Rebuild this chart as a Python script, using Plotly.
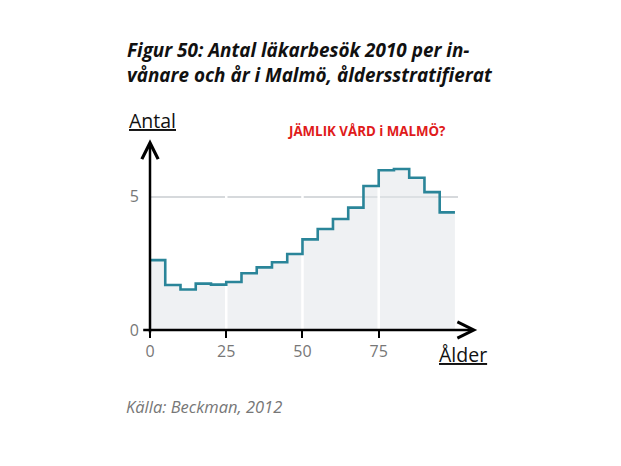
import plotly.graph_objects as go

# Data: age bins (start of each 5-year group) and visits per inhabitant and year
age_start = [0, 5, 10, 15, 20, 25, 30, 35, 40, 45, 50, 55, 60, 65, 70, 75, 80, 85, 90, 95]
visits = [2.62, 1.69, 1.52, 1.74, 1.70, 1.80, 2.13, 2.35, 2.54, 2.85,
          3.40, 3.79, 4.16, 4.59, 5.40, 5.99, 6.04, 5.71, 5.17, 4.41]
bin_width = 5
x_ticks = [0, 25, 50, 75]
y_ticks = [0, 5]

title_text = "Figur 50: Antal läkarbesök 2010 per in-<br>vånare och år i Malmö, åldersstratifierat"
source_text = "Källa: Beckman, 2012"
note_text = "JÄMLIK VÅRD i MALMÖ?"

xs = age_start + [age_start[-1] + bin_width]
ys = visits + [visits[-1]]

line_color = "#2a8599"
fill_color = "rgba(225,229,234,0.55)"
x_max = age_start[-1] + bin_width + 1
y_max = 7.5

fig = go.Figure()
# fill
fig.add_trace(go.Scatter(x=xs, y=ys, mode="lines", line=dict(shape="hv", width=0),
                         fill="tozeroy", fillcolor=fill_color, hoverinfo="skip", showlegend=False))
# white vertical gridlines over the fill
gx, gy = [], []
for t in x_ticks[1:]:
    gx += [t, t, None]
    gy += [0, y_max, None]
fig.add_trace(go.Scatter(x=gx, y=gy, mode="lines", line=dict(color="white", width=2.5),
                         hoverinfo="skip", showlegend=False))
# step line
fig.add_trace(go.Scatter(x=xs, y=ys, mode="lines", line=dict(shape="hv", color=line_color, width=2.6),
                         showlegend=False))

font_main = "Open Sans"
page_offset = 8  # default body margin of the html page

px_per_unit = 3.05
left = 149.5 - page_offset
top = 130 - page_offset
plot_w = px_per_unit * x_max
plot_h = 330 - 130

fig.update_layout(
    width=621, height=466,
    margin=dict(l=left, r=621 - left - plot_w, t=top, b=466 - top - plot_h, autoexpand=False),
    paper_bgcolor="white", plot_bgcolor="white",
    xaxis=dict(range=[0, x_max], tickvals=x_ticks, ticks="outside", ticklen=7, tickwidth=2,
               tickcolor="black", showgrid=False, zeroline=False, showline=False,
               tickfont=dict(family=font_main, size=16, color="#777777")),
    yaxis=dict(range=[0, y_max], tickvals=y_ticks, ticks="", showgrid=True, gridcolor="#d6d9dc",
               gridwidth=1.5, zeroline=False, showline=False, ticklabelstandoff=10,
               tickfont=dict(family=font_main, size=16, color="#777777")),
    font=dict(family=font_main),
)

# x-axis arrow: tip lies beyond the axis range, so position it in paper units
x_tip, x_tail = 107.3, -2.7

annotations = [
    # title
    dict(text="<b><i>" + title_text + "</i></b>", xref="paper", yref="paper", x=-0.08, y=1.0,
         xanchor="left", yanchor="bottom", yshift=40, align="left", showarrow=False,
         font=dict(family=font_main, size=18.9, color="#111111")),
    # axis titles
    dict(text="<u>Antal</u>", xref="paper", yref="paper", x=-0.075, y=1.0, xanchor="left",
         yanchor="bottom", yshift=-6, showarrow=False, font=dict(family=font_main, size=19.5, color="#111111")),
    dict(text="<u>Ålder</u>", xref="paper", yref="paper", x=1.1, y=0, xanchor="right",
         yanchor="top", yshift=-9, showarrow=False, font=dict(family=font_main, size=19.5, color="#111111")),
    # red note
    dict(text="<b>" + note_text + "</b>", xref="paper", yref="paper", x=0.705, y=1.0, xanchor="center",
         yanchor="middle", yshift=-1, showarrow=False, font=dict(family=font_main, size=13.3, color="#e01b1b")),
    # source
    dict(text="<i>" + source_text + "</i>", xref="paper", yref="paper", x=-0.085, y=0, xanchor="left",
         yanchor="top", yshift=-63, showarrow=False, font=dict(family=font_main, size=16.5, color="#777777")),
    # y axis arrow
    dict(x=0, y=7.15, ax=0, ay=-0.15, xref="x", yref="y", axref="x", ayref="y", text="",
         showarrow=True, arrowhead=5, arrowsize=1.28, arrowwidth=2.5, arrowcolor="black"),
    # x axis arrow
    dict(x=x_tip / x_max, y=0, ax=-(x_tip - x_tail) * px_per_unit, ay=0, xref="paper", yref="y",
         axref="pixel", ayref="pixel", text="",
         showarrow=True, arrowhead=5, arrowsize=1.28, arrowwidth=2.5, arrowcolor="black"),
]
fig.update_layout(annotations=annotations)

fig.write_html("out.html")
